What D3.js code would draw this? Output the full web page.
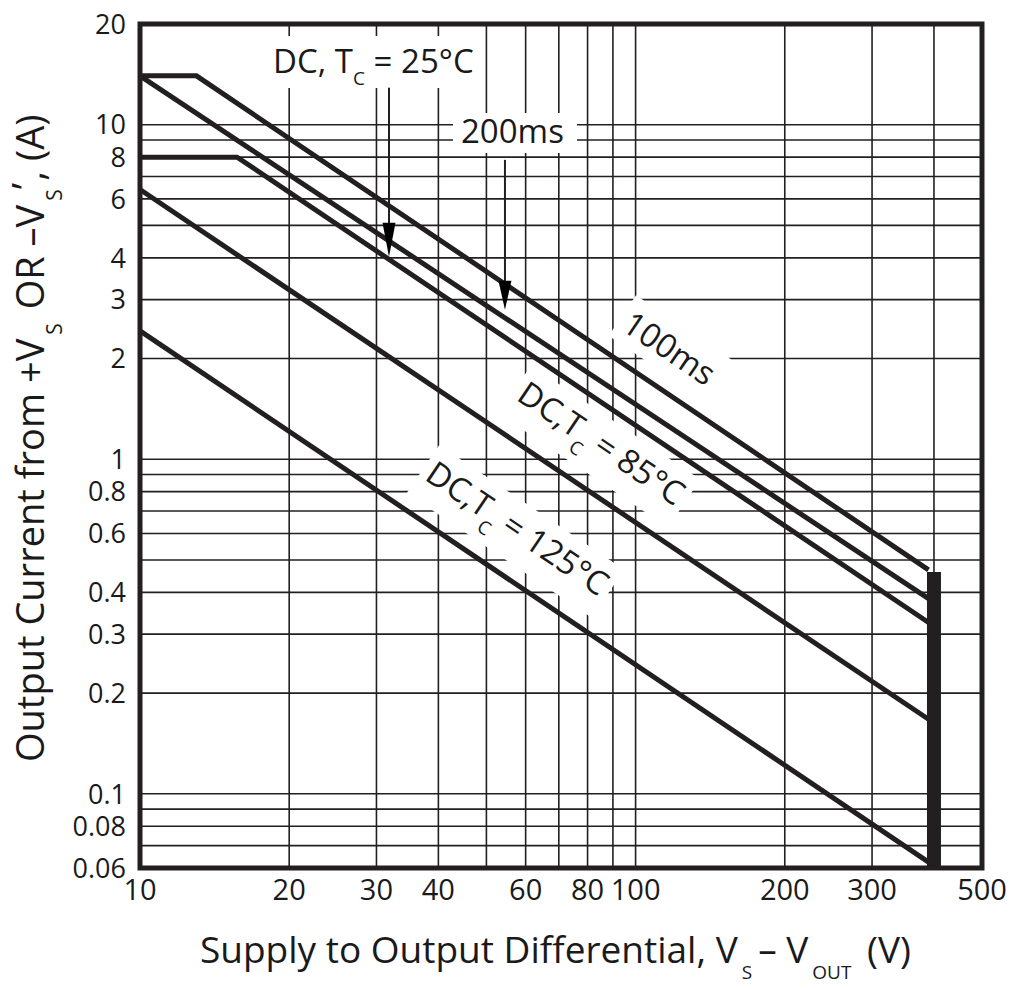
<!DOCTYPE html>
<html>
<head>
<meta charset="utf-8">
<script src="https://cdn.jsdelivr.net/npm/d3@7"></script>
<style>
    body { margin: 0; background: #fff; }
    #space { width: 1011px; height: 989px; }
    text { font-family: "Open Sans", sans-serif; fill: #1a1a1a; }
</style>
</head>
<body>
<div id="space"></div>
<script>
// axis ticks
var x_ticks = [10, 20, 30, 40, 60, 80, 100, 200, 300, 500];
var y_ticks = [20, 10, 8, 6, 4, 3, 2, 1, 0.8, 0.6, 0.4, 0.3, 0.2, 0.1, 0.08, 0.06];
var x_grid = [20, 30, 40, 50, 60, 70, 80, 90, 100, 200, 300, 400];
var y_grid = [10, 9, 8, 7, 6, 5, 4, 3, 2, 1, 0.9, 0.8, 0.7, 0.6, 0.5, 0.4, 0.3, 0.2, 0.1, 0.09, 0.08, 0.07];

// SOA curves (V, A)
var curve_100ms = [[10, 14], [13, 14], [390, 0.467]];
var curve_200ms = [[10, 14], [390, 0.383]];
var curve_dc25 = [[10, 8], [15.7, 8], [390, 0.325]];
var curve_dc85 = [[10, 6.4], [390, 0.167]];
var curve_dc125 = [[10, 2.42], [390, 0.0625]];
var limit_bar = [[400, 0.06], [400, 0.46]];

// arrows: [V, from A, to A]
var arrow_dc25 = [31.8, 12.9, 4.03];
var arrow_200ms = [54.5, 7.85, 2.8];

var svg, x, y;
var ink = "#231f20";

init();

function init() {
    svg = d3.select("#space").append("svg")
                .attr("width", 1011)
                .attr("height", 989);

    x = d3.scaleLog().domain([10, 500]).range([140, 982]);
    y = d3.scaleLog().domain([0.06, 20]).range([868, 24]);

    svg.append("g").attr("id", "grid");
    svg.append("g").attr("id", "mask");
    svg.append("g").attr("id", "path");
    svg.append("g").attr("id", "text");

    drawGrid();
    drawLabels();
    drawCurves();
    drawAxes();
}

/************************************************
                Grid and frame
*************************************************/
function drawGrid() {
    var g = svg.select("#grid");

    g.selectAll(".vgrid").data(x_grid).enter()
        .append("line")
        .attr("class", "vgrid")
        .attr("x1", function (d) { return x(d); })
        .attr("x2", function (d) { return x(d); })
        .attr("y1", y(20))
        .attr("y2", y(0.06))
        .attr("stroke", ink)
        .attr("stroke-width", 1.6);

    g.selectAll(".hgrid").data(y_grid).enter()
        .append("line")
        .attr("class", "hgrid")
        .attr("x1", x(10))
        .attr("x2", x(500))
        .attr("y1", function (d) { return y(d); })
        .attr("y2", function (d) { return y(d); })
        .attr("stroke", ink)
        .attr("stroke-width", 1.6);
}

function drawAxes() {
    var t = svg.select("#text");

    svg.append("rect")
        .attr("x", x(10))
        .attr("y", y(20))
        .attr("width", x(500) - x(10))
        .attr("height", y(0.06) - y(20))
        .attr("fill", "none")
        .attr("stroke", ink)
        .attr("stroke-width", 5);

    t.selectAll(".xtick").data(x_ticks).enter()
        .append("text")
        .attr("class", "xtick")
        .attr("x", function (d) { return x(d); })
        .attr("y", 900)
        .attr("text-anchor", "middle")
        .attr("font-size", 29)
        .text(function (d) { return d; });

    t.selectAll(".ytick").data(y_ticks).enter()
        .append("text")
        .attr("class", "ytick")
        .attr("x", 126)
        .attr("y", function (d) { return y(d); })
        .attr("dy", "0.36em")
        .attr("text-anchor", "end")
        .attr("font-size", 27)
        .text(function (d) { return d; });

    //x title
    var xt = t.append("text")
                .attr("x", 200)
                .attr("y", 963)
                .attr("font-size", 37);
    xt.append("tspan").text("Supply to Output Differential, V");
    xt.append("tspan").attr("dx", 4).attr("dy", 16).attr("font-size", 19).text("S");
    xt.append("tspan").attr("dx", 6).attr("dy", -16).text("\u2013 V");
    xt.append("tspan").attr("dx", 4).attr("dy", 16).attr("font-size", 19).text("OUT");
    xt.append("tspan").attr("dx", 6).attr("dy", -16).text(" (V)");

    //y title
    var yt = t.append("text")
                .attr("transform", "translate(44,762) rotate(-90)")
                .attr("font-size", 38);
    yt.append("tspan").text("Output Current from +V");
    yt.append("tspan").attr("dx", 4).attr("dy", 18).attr("font-size", 21).text("S");
    yt.append("tspan").attr("dx", 4).attr("dy", -18).text(" OR \u2013V");
    yt.append("tspan").attr("dx", 4).attr("dy", 18).attr("font-size", 21).text("S");
    yt.append("tspan").attr("dy", -22).text("\u2019");
    yt.append("tspan").attr("dx", 2).attr("dy", 4).text(", (A)");
}

/************************************************
                Curves and arrows
*************************************************/
function drawCurves() {
    var p = svg.select("#path");
    var line = d3.line()
                .x(function (d) { return x(d[0]); })
                .y(function (d) { return y(d[1]); });

    var curves = [curve_dc125, curve_dc85, curve_dc25, curve_200ms, curve_100ms];
    p.selectAll(".curve").data(curves).enter()
        .append("path")
        .attr("class", "curve")
        .attr("d", line)
        .attr("fill", "none")
        .attr("stroke", ink)
        .attr("stroke-width", 5)
        .attr("stroke-linejoin", "miter");

    p.append("path")
        .attr("d", line(limit_bar))
        .attr("stroke", ink)
        .attr("stroke-width", 14);

    drawArrow(p, arrow_dc25, 34);
    drawArrow(p, arrow_200ms, 29);
}

function drawArrow(_g, _a, head_len) {
    var ax = x(_a[0]), y0 = y(_a[1]), y1 = y(_a[2]);

    _g.append("line")
        .attr("x1", ax)
        .attr("x2", ax)
        .attr("y1", y0)
        .attr("y2", y1 - head_len + 2)
        .attr("stroke", ink)
        .attr("stroke-width", 2);

    _g.append("path")
        .attr("d", "M" + (ax - 6.5) + "," + (y1 - head_len) + "L" + (ax + 6.5) + "," + (y1 - head_len) + "L" + ax + "," + y1 + "Z")
        .attr("fill", "#000");
}

/************************************************
                Labels with white backing
*************************************************/
function drawLabels() {
    var t = svg.select("#text");
    var m = svg.select("#mask");

    //DC 25C
    m.append("rect").attr("x", 266).attr("y", 36).attr("width", 214).attr("height", 52).attr("fill", "#fff");
    var l1 = t.append("text").attr("x", 273).attr("y", 73).attr("font-size", 33);
    l1.append("tspan").text("DC, T");
    l1.append("tspan").attr("dy", 12).attr("font-size", 19).text("C");
    l1.append("tspan").attr("dy", -12).text(" = 25\u00b0C");

    //200ms
    m.append("rect").attr("x", 453).attr("y", 113).attr("width", 124).attr("height", 40).attr("fill", "#fff");
    t.append("text").attr("x", 461).attr("y", 143).attr("font-size", 33).text("200ms");

    rotatedLabel(m, t, 663, 358, [["100ms", 0]]);
    rotatedLabel(m, t, 595, 453, [["DC,T", 0], ["C", 1], [" = 85\u00b0C", 0]]);
    rotatedLabel(m, t, 511, 538, [["DC,T", 0], ["C", 1], [" = 125\u00b0C", 0]]);
}

function rotatedLabel(_m, _t, cx, cy, parts) {
    var box = _m.append("rect").attr("fill", "#fff");
    var g = _t.append("g").attr("transform", "translate(" + cx + "," + cy + ") rotate(34)");
    var txt = g.append("text")
                .attr("text-anchor", "middle")
                .attr("dy", "0.36em")
                .attr("font-size", 33);

    var shift = 0;
    for (var i = 0; i < parts.length; i++) {
        var dy = 0;
        if (parts[i][1] == 1 && shift == 0) { dy = 13; shift = 13; }
        else if (parts[i][1] == 0 && shift != 0) { dy = -shift; shift = 0; }
        txt.append("tspan")
            .attr("dy", dy)
            .attr("font-size", parts[i][1] == 1 ? 19 : 33)
            .text(parts[i][0]);
    }

    var bb = txt.node().getBBox();
    box.attr("x", bb.x - 6)
       .attr("y", bb.y - 2)
       .attr("width", bb.width + 12)
       .attr("height", bb.height + 4)
       .attr("transform", "translate(" + cx + "," + cy + ") rotate(34)");
}
</script>
</body>
</html>
